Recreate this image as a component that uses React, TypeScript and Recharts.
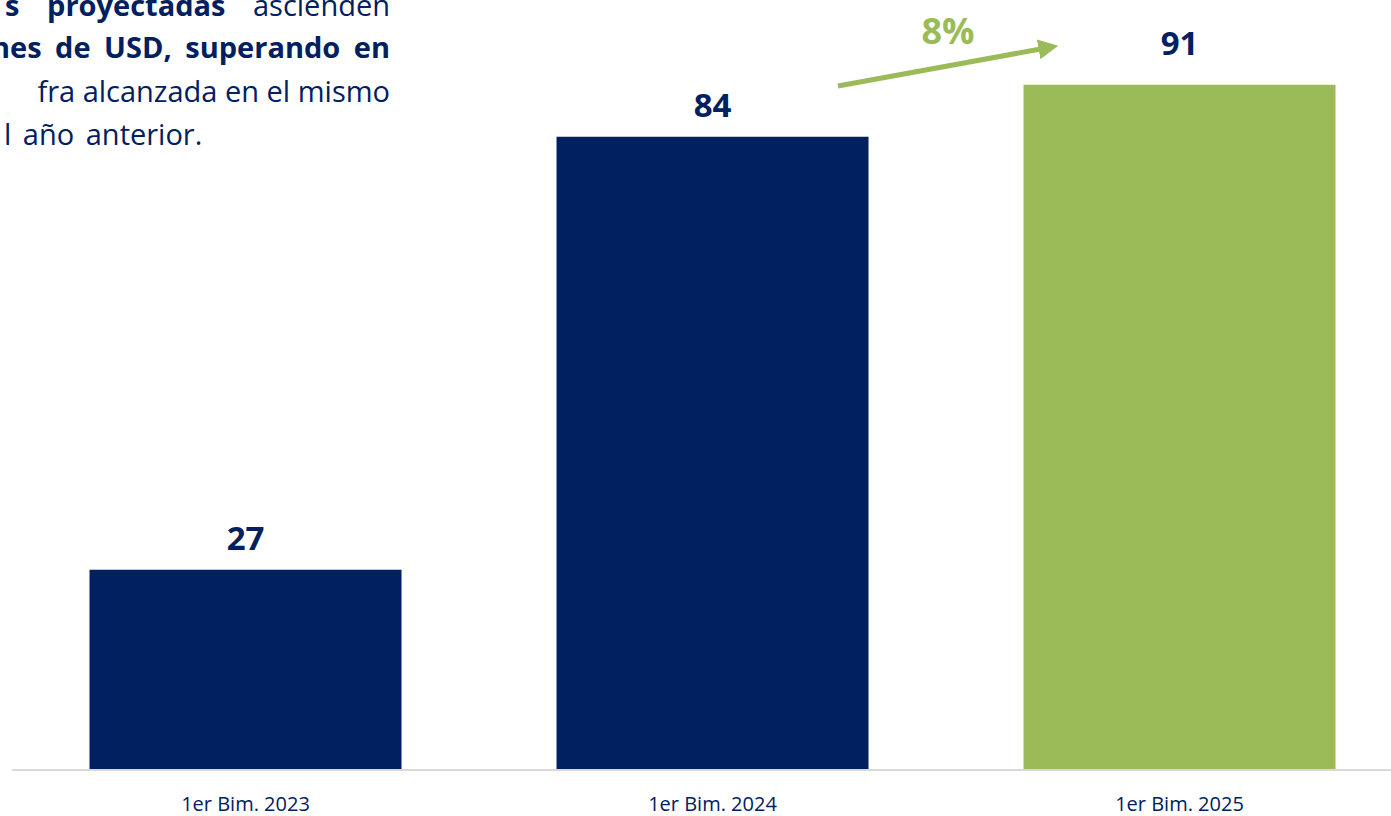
import React from "react";
import { BarChart, Bar, XAxis, YAxis, Cell, LabelList } from "recharts";

const periods = ["1er Bim. 2023", "1er Bim. 2024", "1er Bim. 2025"];
const values = [26.6, 84.1, 91.0];
const growthLabel = "8%";

const NAVY = "#002060";
const GREEN = "#9BBB59";

const data = periods.map((name, i) => ({ name, value: values[i] }));

const ValueLabel = (props: any) => {
  const { x, y, width, value, index } = props;
  const last = index === periods.length - 1;
  return (
    <text
      x={x + width / 2}
      y={y - (last ? 30 : 20)}
      textAnchor="middle"
      fill={NAVY}
      fontSize={33}
      fontWeight={700}
      fontFamily="'Open Sans', sans-serif"
    >
      {Math.round(value)}
    </text>
  );
};

const Tick = (props: any) => {
  const { x, y, payload } = props;
  return (
    <text
      x={x}
      y={y + 33}
      textAnchor="middle"
      fill={NAVY}
      fontSize={20}
      fontFamily="'Open Sans', sans-serif"
    >
      {payload.value}
    </text>
  );
};

const App: React.FC = () => {
  return (
    <div
      style={{
        position: "absolute",
        top: 0,
        left: 0,
        width: 1391,
        height: 816,
        overflow: "hidden",
        background: "#fff",
        fontFamily: "'Open Sans', sans-serif",
      }}
    >
      <BarChart
        width={1413}
        height={816}
        data={data}
        margin={{ top: 17, right: 0, left: 12, bottom: 0 }}
        barCategoryGap="16.6%"
      >
        <XAxis
          dataKey="name"
          height={46}
          tickLine={false}
          axisLine={{ stroke: "#D9D9D9", strokeWidth: 2 }}
          tick={<Tick />}
          interval={0}
        />
        <YAxis hide domain={[0, 100]} />
        <Bar dataKey="value" isAnimationActive={false}>
          {data.map((d, i) => (
            <Cell key={d.name} fill={i === data.length - 1 ? GREEN : NAVY} />
          ))}
          <LabelList dataKey="value" content={<ValueLabel />} />
        </Bar>
      </BarChart>

      <svg
        width={1391}
        height={816}
        style={{ position: "absolute", top: 0, left: 0, pointerEvents: "none" }}
      >
        <defs>
          <marker
            id="arrow"
            markerWidth="4"
            markerHeight="4"
            refX="1.5"
            refY="2"
            orient="auto"
            markerUnits="strokeWidth"
          >
            <path d="M0,0 L4,2 L0,4 Z" fill={GREEN} />
          </marker>
        </defs>
        <line
          x1={838}
          y1={86}
          x2={1046}
          y2={48}
          stroke={GREEN}
          strokeWidth={5}
          markerEnd="url(#arrow)"
        />
        <text
          x={948}
          y={44}
          textAnchor="middle"
          fill={GREEN}
          fontSize={36}
          fontWeight={700}
          fontFamily="'Open Sans', sans-serif"
        >
          {growthLabel}
        </text>

        <g fill={NAVY} fontSize={29} fontFamily="'Open Sans', sans-serif">
          <text x={390} y={16} textAnchor="end" style={{ wordSpacing: 20 }}>
            <tspan fontWeight={700}>s proyectadas</tspan>
            <tspan> ascienden</tspan>
          </text>
          <text x={390} y={58} textAnchor="end" fontWeight={700} style={{ wordSpacing: 6 }}>
            nes de USD, superando en
          </text>
          <text x={390} y={102} textAnchor="end">
            fra alcanzada en el mismo
          </text>
          <text x={4} y={145} style={{ wordSpacing: 4 }}>
            l  año anterior.
          </text>
        </g>
      </svg>
    </div>
  );
};

export default App;
